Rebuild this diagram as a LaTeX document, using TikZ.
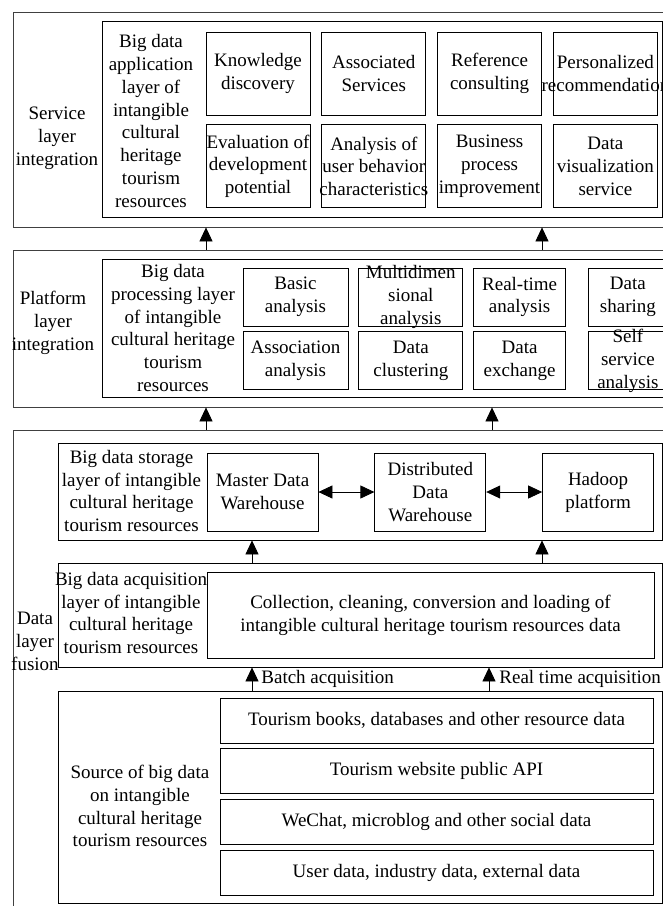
\documentclass[tikz,border=0pt]{standalone}
\usepackage{fontspec}
\setmainfont{Liberation Serif}
\usetikzlibrary{positioning,arrows.meta}
\tikzset{
  layer/.style={draw=black!75, line width=0.8pt, inner sep=0pt},
  group/.style={draw, line width=0.8pt, inner sep=0pt},
  cell/.style={draw, line width=0.8pt, inner sep=0pt, minimum width=104pt, minimum height=83pt},
  tag/.style={align=center, inner sep=0pt},
  arrow/.style={-{Triangle[length=14pt,width=13pt]}, line width=0.8pt},
  darrow/.style={{Triangle[length=14pt,width=13pt]}-{Triangle[length=14pt,width=13pt]}, line width=0.8pt},
  every label/.append style={align=center, inner sep=0pt}
}

\begin{document}
\begin{tikzpicture}[x=1pt, y=-1pt, font=\fontsize{19}{22.9}\selectfont]
  \useasboundingbox (0,0) rectangle (663,906);
  \clip (0,0) rectangle (663,906);

  % service layer
  \node[layer, minimum width=657pt, minimum height=215pt] (service) at (341.5,119.5) {};
  \node[tag] (servicetag) at (57,138) {Service\\layer\\integration};
  \node[group, minimum width=560pt, minimum height=196pt] (app) at (382,119) {};
  \node[tag] (apptag) at (151,121) {Big data\\application\\layer of\\intangible\\cultural\\heritage\\tourism\\resources};
  \node[cell, label={center:Knowledge\\discovery}] (know) at (258,73.5) {};
  \node[cell, right=11pt of know, label={center:Associated\\Services}] (assoc) {};
  \node[cell, right=11pt of assoc, label={center:Reference\\consulting}] (refer) {};
  \node[cell, right=11pt of refer, label={center:Personalized\\recommendation}] (person) {};
  \node[cell, below=9pt of know, label={center:Evaluation of\\development\\potential}] (evalu) {};
  \node[cell, below=9pt of assoc, label={center:Analysis of\\user behavior\\characteristics}] (behav) {};
  \node[cell, below=9pt of refer, label={center:Business\\process\\improvement}] (busin) {};
  \node[cell, below=9pt of person, label={center:Data\\visualization\\service}] (visual) {};

  % platform layer
  \node[layer, minimum width=657pt, minimum height=157pt] (platform) at (341.5,328.5) {};
  \node[tag] (platformtag) at (53,323) {Platform\\layer\\integration};
  \node[group, minimum width=568pt, minimum height=138pt] (proc) at (386,328) {};
  \node[tag] (proctag) at (173,328) {Big data\\processing layer\\of intangible\\cultural heritage\\tourism\\resources};
  \node[cell, minimum width=105pt, minimum height=58pt, label={center:Basic\\analysis}] (basic) at (295.5,297) {};
  \node[cell, minimum height=58pt, right=10pt of basic, label={center:Multidimen\\sional\\analysis}] (multi) {};
  \node[cell, minimum width=92pt, minimum height=58pt, right=10pt of multi, label={center:Real-time\\analysis}] (realt) {};
  \node[cell, minimum width=79pt, minimum height=58pt, right=22pt of realt, label={center:Data\\sharing}] (share) {};
  \node[cell, minimum width=105pt, minimum height=58pt, below=5pt of basic, label={center:Association\\analysis}] (associa) {};
  \node[cell, minimum height=58pt, below=5pt of multi, label={center:Data\\clustering}] (cluster) {};
  \node[cell, minimum width=92pt, minimum height=58pt, below=5pt of realt, label={center:Data\\exchange}] (exch) {};
  \node[cell, minimum width=79pt, minimum height=58pt, below=5pt of share, label={center:Self\\service\\analysis}] (selfs) {};

  % data layer
  \node[layer, minimum width=657pt, minimum height=480pt] (data) at (341.5,670) {};
  \node[tag] (datatag) at (35,641) {Data\\layer\\fusion};

  \node[group, minimum width=604pt, minimum height=97pt] (storage) at (360,491.5) {};
  \node[tag] (storagetag) at (131.5,491) {Big data storage\\layer of intangible\\cultural heritage\\tourism resources};
  \node[cell, minimum width=111pt, minimum height=78pt, label={center:Master Data\\Warehouse}] (master) at (262.5,492) {};
  \node[cell, minimum width=111pt, minimum height=78pt, right=56pt of master, label={center:Distributed\\Data\\Warehouse}] (distr) {};
  \node[cell, minimum width=111pt, minimum height=78pt, right=56pt of distr, label={center:Hadoop\\platform}] (hadoop) {};
  \draw[darrow] (master) -- (distr);
  \draw[darrow] (distr) -- (hadoop);

  \node[group, minimum width=604pt, minimum height=104pt] (acq) at (360.5,615) {};
  \node[tag] (acqtag) at (131,613) {Big data acquisition\\layer of intangible\\cultural heritage\\tourism resources};
  \node[group, minimum width=447pt, minimum height=86pt, align=center] (etl) at (430.5,615) {Collection, cleaning, conversion and loading of\\intangible cultural heritage tourism resources data};

  \node[group, minimum width=604pt, minimum height=212pt] (source) at (360,797) {};
  \node[tag] (sourcetag) at (140,806) {Source of big data\\on intangible\\cultural heritage\\tourism resources};
  \node[group, minimum width=433pt, minimum height=45pt] (books) at (436.5,720.5) {Tourism books, databases and other resource data};
  \node[group, minimum width=433pt, minimum height=45pt, below=5pt of books] (api) {Tourism website public API};
  \node[group, minimum width=433pt, minimum height=45pt, below=5pt of api] (social) {WeChat, microblog and other social data};
  \node[group, minimum width=433pt, minimum height=45pt, below=5pt of social] (user) {User data, industry data, external data};

  % arrows between layers
  \draw[arrow] (platform.north -| 206,0) -- (service.south -| 206,0);
  \draw[arrow] (platform.north -| 542,0) -- (service.south -| 542,0);
  \draw[arrow] (data.north -| 206,0) -- (platform.south -| 206,0);
  \draw[arrow] (data.north -| 492,0) -- (platform.south -| 492,0);
  \draw[arrow] (acq.north -| 252,0) -- (storage.south -| 252,0);
  \draw[arrow] (acq.north -| 542,0) -- (storage.south -| 542,0);
  \draw[arrow] (source.north -| 252,0) -- node[tag, right=9pt] (batch) {Batch acquisition} (acq.south -| 252,0);
  \draw[arrow] (source.north -| 489,0) -- node[tag, right=10pt] (realtime) {Real time acquisition} (acq.south -| 489,0);
\end{tikzpicture}
\end{document}
